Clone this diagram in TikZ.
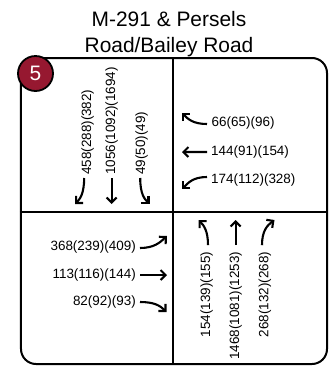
\documentclass[tikz,border=0pt]{standalone}
\usepackage{fontspec}
\setmainfont{Liberation Sans}
\usetikzlibrary{arrows.meta}
\definecolor{badgered}{RGB}{150,24,48}
\begin{document}
\begin{tikzpicture}[x=1bp,y=-1bp,
  lbl/.style={inner sep=0pt, font=\fontsize{13.5}{16}\selectfont},
  vlbl/.style={lbl, rotate=90},
  mv/.style={line width=2.1bp, -{Straight Barb[length=5bp,width=10bp]}},
  title/.style={inner sep=0pt, anchor=base, font=\fontsize{21}{26}\selectfont}]
\useasboundingbox (0,0) rectangle (330,366);
% title
\node[title] (t1) at (169,26) {M-291 \& Persels};
\node[title] (t2) at (169,52) {Road/Bailey Road};
% box and dividers
\node[draw, line width=2bp, rounded corners=15bp, minimum width=306bp,
      minimum height=306bp, inner sep=0pt] (box) at (174,211) {};
\draw[line width=2bp] ([xshift=-1bp]box.north) -- ([xshift=-1bp]box.south);
\draw[line width=2bp] ([yshift=-1bp]box.west) -- ([yshift=-1bp]box.east);
% badge
\node[circle, draw, line width=1.8bp, fill=badgered, minimum size=35bp, inner sep=0pt,
      text=white, font=\fontsize{21}{24}\selectfont] (badge) at (35.5,73.5) {5};
% top-left (southbound)
\node[vlbl, anchor=west] (s1) at (87.7,175) {458(288)(382)};
\node[vlbl, anchor=west] (s2) at (111.7,175) {1056(1092)(1694)};
\node[vlbl, anchor=west] (s3) at (141.7,175) {49(50)(49)};
\coordinate (s1e) at (75,204);
\coordinate (s2e) at (111.7,204);
\coordinate (s3e) at (149.5,204);
\draw[mv] ([shift={(-3.5,3)}]s1.west) .. controls (84,194) and (80,199) .. (s1e);
\draw[mv] ([shift={(0,3)}]s2.west) -- (s2e);
\draw[mv] ([shift={(-1.5,3)}]s3.west) .. controls (140.2,194) and (144.5,199) .. (s3e);
% top-right (westbound)
\node[lbl, anchor=west] (w1) at (211.5,123.3) {66(65)(96)};
\node[lbl, anchor=west] (w2) at (211,151.7) {144(91)(154)};
\node[lbl, anchor=west] (w3) at (211,180) {174(112)(328)};
\coordinate (w1e) at (182,113);
\coordinate (w2e) at (182,152);
\coordinate (w3e) at (182,189);
\draw[mv] ([shift={(-4.5,0.7)}]w1.west) .. controls (193,124) and (188,119) .. (w1e);
\draw[mv] ([shift={(-4,0.3)}]w2.west) -- (w2e);
\draw[mv] ([shift={(-4,-3)}]w3.west) .. controls (193,177) and (188,183) .. (w3e);
% bottom-left (eastbound)
\node[lbl, anchor=east] (e1) at (136,247.3) {368(239)(409)};
\node[lbl, anchor=east] (e2) at (136,275) {113(116)(144)};
\node[lbl, anchor=east] (e3) at (136,302) {82(92)(93)};
\coordinate (e1e) at (167,236);
\coordinate (e2e) at (167,275);
\coordinate (e3e) at (166.5,312);
\draw[mv] ([shift={(4,0.7)}]e1.east) .. controls (154,248) and (160,242.5) .. (e1e);
\draw[mv] ([shift={(4,0)}]e2.east) -- (e2e);
\draw[mv] ([shift={(4,0)}]e3.east) .. controls (154,302) and (160,305.5) .. (e3e);
% bottom-right (northbound)
\node[vlbl, anchor=east] (n1) at (206.7,251.7) {154(139)(155)};
\node[vlbl, anchor=east] (n2) at (235.7,251.7) {1468(1081)(1253)};
\node[vlbl, anchor=east] (n3) at (265,251.7) {268(132)(268)};
\coordinate (n1e) at (198.5,220);
\coordinate (n2e) at (235.7,220);
\coordinate (n3e) at (274.5,220);
\draw[mv] ([shift={(1.3,-6.5)}]n1.east) .. controls (208,231) and (204,225.5) .. (n1e);
\draw[mv] ([shift={(0,-6.5)}]n2.east) -- (n2e);
\draw[mv] ([shift={(-3,-6.5)}]n3.east) .. controls (262,231) and (267,225.5) .. (n3e);
\end{tikzpicture}
\end{document}
